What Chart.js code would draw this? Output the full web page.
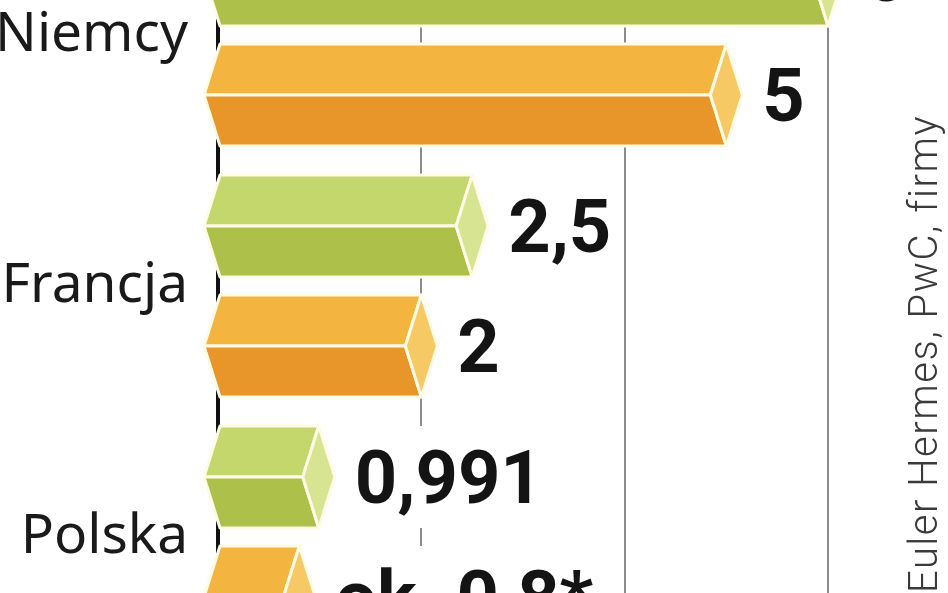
<!DOCTYPE html>
<html>
<head>
<meta charset="utf-8">
<script src="https://cdn.jsdelivr.net/npm/chart.js@4.4.1/dist/chart.umd.min.js"></script>
<style>
  html, body { margin: 0; padding: 0; background: #fff; overflow: hidden; }
  #wrap { position: relative; width: 948px; height: 593px; overflow: hidden; background: #fff; }
  #chart { position: absolute; left: 0; top: -100px; }
</style>
</head>
<body>
<div id="wrap"><canvas id="chart" width="948" height="800"></canvas></div>
<script>
// Data
const countries = ["Niemcy", "Francja", "Polska"];
const greenValues = [6, 2.5, 0.991];
const orangeValues = [5, 2, 0.8];
const greenLabels = ["6", "2,5", "0,991"];
const orangeLabels = ["5", "2", "ok. 0,8*"];
const sourceText = "Euler Hermes, PwC, firmy";

// Face colours: top, bottom, end cap
const palettes = [
  { top: "#c4d76c", bottom: "#adc049", cap: "#d7e592" },
  { top: "#f3b540", bottom: "#e8962a", cap: "#f6c965" }
];
const valueLabels = [greenLabels, orangeLabels];
const BEVEL = 16;
const SHIFT = 100; // canvas is moved up by this much

// Draws each bar as a flat hexagonal prism
const prismBars = {
  id: "prismBars",
  afterDatasetsDraw(chart) {
    const ctx = chart.ctx;
    chart.data.datasets.forEach((ds, di) => {
      const meta = chart.getDatasetMeta(di);
      const pal = palettes[di];
      meta.data.forEach((bar, i) => {
        const p = bar.getProps(["x", "y", "base", "height"], true);
        const top = p.y - p.height / 2, bot = p.y + p.height / 2, mid = p.y;
        const x = p.x, b = p.base, d = BEVEL;

        ctx.save();
        ctx.lineJoin = "round";
        ctx.strokeStyle = "#fffbe6";
        ctx.lineWidth = 3;

        const face = (pts, color) => {
          ctx.beginPath();
          ctx.moveTo(pts[0][0], pts[0][1]);
          pts.slice(1).forEach(pt => ctx.lineTo(pt[0], pt[1]));
          ctx.closePath();
          ctx.fillStyle = color;
          ctx.fill();
          ctx.stroke();
        };
        face([[b, top], [x, top], [x - d, mid], [b - d, mid]], pal.top);
        face([[b - d, mid], [x - d, mid], [x, bot], [b, bot]], pal.bottom);
        face([[x, top], [x + d, mid], [x, bot], [x - d, mid]], pal.cap);

        // value label with white backing
        const txt = valueLabels[di][i];
        ctx.font = "bold 74px Roboto, 'Liberation Sans', sans-serif";
        const w = ctx.measureText(txt).width;
        const tx = x + d + 20;
        ctx.fillStyle = "#fff";
        ctx.fillRect(x + d + 4, top, w + 26, p.height);
        ctx.fillStyle = "#141414";
        ctx.textAlign = "left";
        ctx.textBaseline = "alphabetic";
        ctx.fillText(txt, tx, mid + 26);
        ctx.restore();
      });
    });

    // source note, rotated
    ctx.save();
    ctx.translate(937, 115 + SHIFT);
    ctx.rotate(-Math.PI / 2);
    ctx.font = "300 40px Roboto, 'Liberation Sans', sans-serif";
    ctx.letterSpacing = "1.5px";
    ctx.fillStyle = "#3a3a3a";
    ctx.textAlign = "right";
    ctx.textBaseline = "alphabetic";
    ctx.fillText(sourceText, 0, 0);
    ctx.restore();
  }
};

const ctx = document.getElementById("chart").getContext("2d");
const chart = new Chart(ctx, {
  type: "bar",
  data: {
    labels: countries,
    datasets: [
      { data: greenValues, backgroundColor: "rgba(0,0,0,0)" },
      { data: orangeValues, backgroundColor: "rgba(0,0,0,0)" }
    ]
  },
  options: {
    indexAxis: "y",
    responsive: false,
    animation: false,
    devicePixelRatio: 1,
    categoryPercentage: 0.956,
    barPercentage: 0.85,
    layout: { autoPadding: false, padding: { top: 9.5, bottom: 37.5, left: 0, right: 0 } },
    plugins: { legend: { display: false }, tooltip: { enabled: false } },
    scales: {
      x: {
        type: "linear",
        min: 0,
        max: 7.18,
        afterFit(scale) { scale.height = 0; },
        ticks: { display: false, stepSize: 2 },
        border: { display: false },
        grid: {
          drawTicks: false,
          color: c => c.tick.value === 0 ? "#111" : (c.tick.value % 2 === 0 ? "#8c8c8c" : "rgba(0,0,0,0)"),
          lineWidth: c => c.tick.value === 0 ? 4 : 2
        }
      },
      y: {
        afterFit(scale) {
          scale.width = 218;
          scale.paddingTop = 0;
          scale.paddingBottom = 0;
        },
        grid: { display: false, drawTicks: false },
        border: { display: false },
        ticks: {
          padding: 30,
          color: "#1a1a1a",
          font: { family: "'Noto Sans', 'Open Sans', sans-serif", size: 55 }
        }
      }
    }
  },
  plugins: [prismBars]
});
</script>
</body>
</html>
